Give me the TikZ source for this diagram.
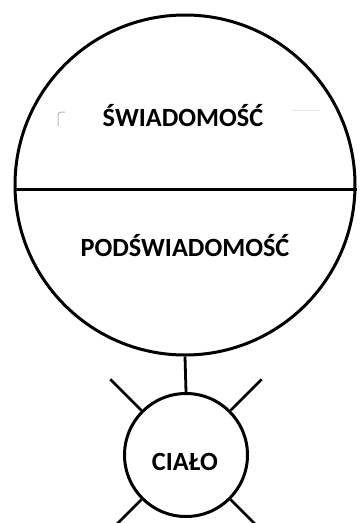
\documentclass[tikz,border=0pt]{standalone}
\usepackage{fontspec}
\setmainfont{Carlito}
\usepackage{tikz}
\usetikzlibrary{calc}

\begin{document}
\begin{tikzpicture}[x=1pt, y=-1pt,
    ring/.style={draw, circle, line width=3pt, inner sep=0pt},
    word/.style={font=\fontsize{26.3}{30}\selectfont\bfseries, inner sep=0pt}]
    \useasboundingbox (0,0) rectangle (360,523);
    \clip (0,0) rectangle (360,523);

    \node[ring, minimum size=340pt] (umysl) at (185,185) {};
    \node[ring, minimum size=123pt] (cialo) at (186,455) {};

    \draw[line width=3pt] ([yshift=-4pt]umysl.west) -- ([yshift=-4pt]umysl.east);
    \draw[line width=2.8pt] (umysl.south) -- (cialo.north);

    % promienie
    \coordinate (p1) at ($(cialo.center)!1.7!(cialo.135)$);
    \coordinate (p2) at ($(cialo.center)!1.7!(cialo.45)$);
    \coordinate (p3) at ($(cialo.center)!1.7!(cialo.225)$);
    \coordinate (p4) at ($(cialo.center)!1.7!(cialo.315)$);
    \draw[line width=2.8pt] (cialo.135) -- (p1);
    \draw[line width=2.8pt] (cialo.45) -- (p2);
    \draw[line width=2.8pt] (cialo.225) -- (p3);
    \draw[line width=2.8pt] (cialo.315) -- (p4);

    \node[word] (swiad) at (183,116) {ŚWIADOMOŚĆ};
    \node[word] (podsw) at (185,246) {PODŚWIADOMOŚĆ};
    \node[word] (cialotxt) at (185,462) {CIAŁO};

    % slady
    \draw[gray!55, line width=1pt] (58,126) -- (58,119) .. controls (58,112) .. (65,112);
    \draw[gray!20, line width=1pt] (292,110) -- (320,110);
\end{tikzpicture}
\end{document}
